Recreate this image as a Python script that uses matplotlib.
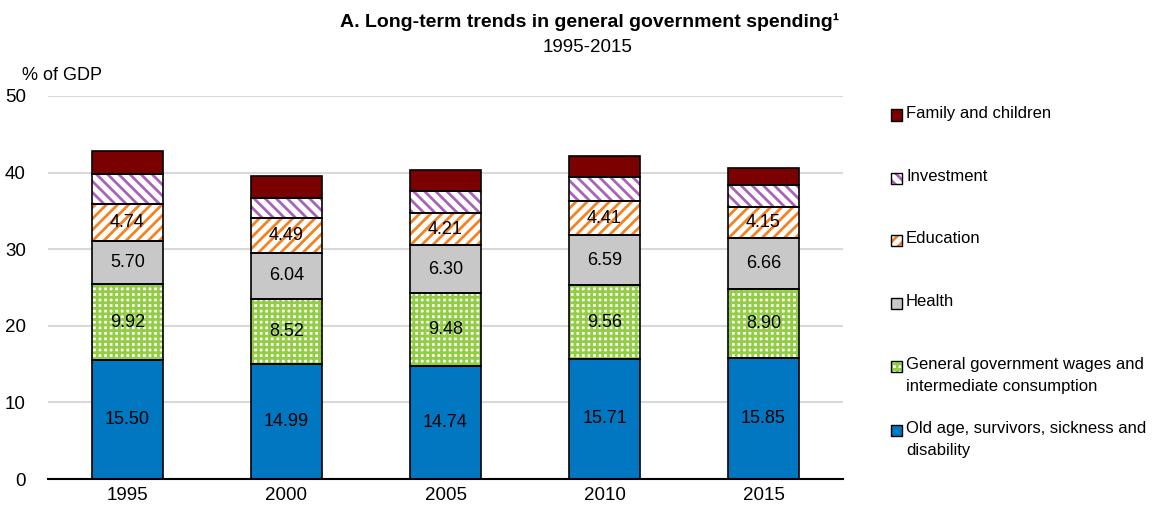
import matplotlib.pyplot as plt
import numpy as np
from matplotlib.patches import Rectangle

plt.rcParams['font.family'] = ['Liberation Sans Narrow', 'Liberation Sans', 'DejaVu Sans']
plt.rcParams['hatch.linewidth'] = 2.0

years = ['1995', '2000', '2005', '2010', '2015']
old_age = [15.50, 14.99, 14.74, 15.71, 15.85]
wages = [9.92, 8.52, 9.48, 9.56, 8.90]
health = [5.70, 6.04, 6.30, 6.59, 6.66]
education = [4.74, 4.49, 4.21, 4.41, 4.15]
investment = [3.95, 2.65, 2.85, 3.15, 2.80]
family = [3.05, 2.85, 2.75, 2.70, 2.30]

names = ['Old age, survivors, sickness and\ndisability',
         'General government wages and\nintermediate consumption',
         'Health', 'Education', 'Investment', 'Family and children']
series = [old_age, wages, health, education, investment, family]
# (face, hatch colour, hatch)
styles = [('#0077C0', None, None),
          ('white', '#92CD45', '+++'),
          ('#C8C8C8', None, None),
          ('white', '#F58220', '///'),
          ('white', '#A864B8', '\\\\\\'),
          ('#7B0000', None, None)]
labelled = [True, True, True, True, False, False]

fs = 13

fig = plt.figure(figsize=(11.58, 5.05), dpi=100)
ax = fig.add_axes([48 / 1158, 26 / 505, (843 - 48) / 1158, (479 - 96) / 505])

x = np.arange(len(years))
w = 0.45
bottom = np.zeros(len(years))
for vals, (face, hc, h), lab in zip(series, styles, labelled):
    vals = np.array(vals)
    if h:
        ax.bar(x, vals, w, bottom=bottom, color=face, edgecolor=hc, hatch=h, linewidth=0, zorder=2)
    else:
        ax.bar(x, vals, w, bottom=bottom, color=face, linewidth=0, zorder=2)
    cont = ax.bar(x, vals, w, bottom=bottom, fill=False, edgecolor='black', linewidth=1.2, zorder=3)
    if lab:
        ax.bar_label(cont, labels=['%.2f' % v for v in vals], label_type='center', fontsize=fs, zorder=4)
    bottom += vals

ax.set_xlim(-0.5, 4.5)
ax.set_ylim(0, 50)
ax.set_yticks(range(0, 51, 10))
ax.set_xticks(x)
ax.set_xticklabels(years)
ax.tick_params(axis='both', length=0, labelsize=fs + 0.5)
ax.tick_params(axis='y', pad=16)
ax.tick_params(axis='x', pad=6)
ax.yaxis.grid(True, color='#D9D9D9', linewidth=1.5, zorder=0)
ax.set_axisbelow(True)
for s in ['top', 'right', 'left']:
    ax.spines[s].set_visible(False)
ax.spines['bottom'].set_linewidth(1.5)
ax.spines['bottom'].set_zorder(5)

fig.text(590 / 1158, 1 - 22 / 505, 'A. Long-term trends in general government spending\u00b9',
         ha='center', va='center', fontsize=14, fontweight='bold')
fig.text(588 / 1158, 1 - 47 / 505, '1995-2015', ha='center', va='center', fontsize=fs + 0.5)
fig.text(22 / 1158, 1 - 75 / 505, '% of GDP', ha='left', va='center', fontsize=fs)

# legend, top entry first
leg_y = [115, 178, 240, 303, 366, 430]
for (name, (face, hc, h)), yy in zip(list(zip(names, styles))[::-1], leg_y):
    sz = 11
    if h:
        fig.patches.append(Rectangle((891 / 1158, 1 - (yy + sz / 2) / 505), sz / 1158, sz / 505,
                                     transform=fig.transFigure, facecolor=face, edgecolor=hc,
                                     hatch=h, linewidth=0))
    else:
        fig.patches.append(Rectangle((891 / 1158, 1 - (yy + sz / 2) / 505), sz / 1158, sz / 505,
                                     transform=fig.transFigure, facecolor=face, linewidth=0))
    fig.patches.append(Rectangle((891 / 1158, 1 - (yy + sz / 2) / 505), sz / 1158, sz / 505,
                                 transform=fig.transFigure, fill=False, edgecolor='black', linewidth=1))
    fig.text(906 / 1158, 1 - (yy - 9) / 505, name, ha='left', va='top', fontsize=12, linespacing=1.55)

fig.savefig('out.png', dpi=100)
